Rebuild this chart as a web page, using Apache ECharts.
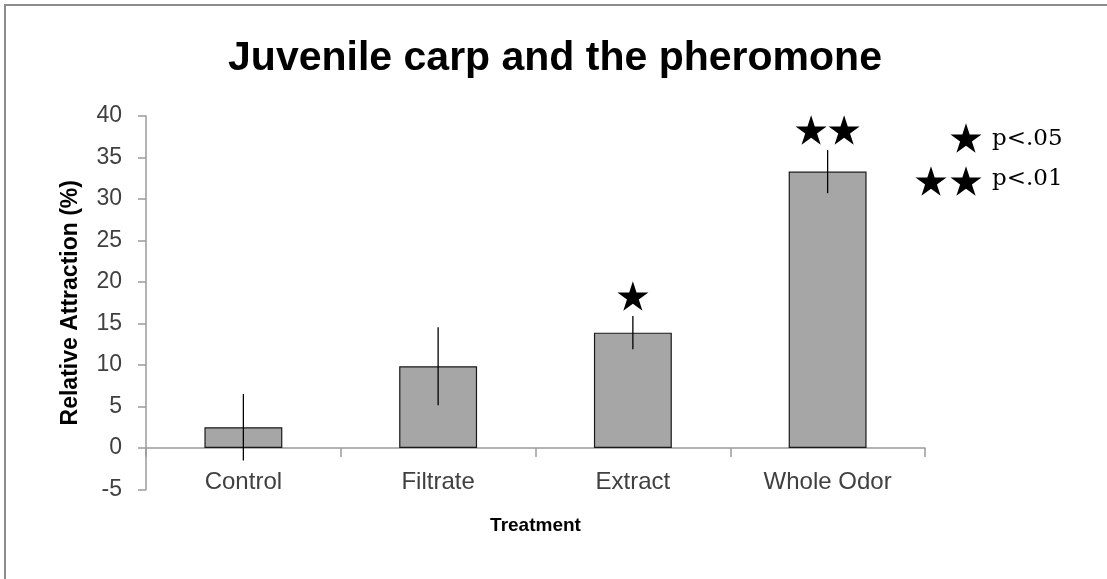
<!DOCTYPE html>
<html>
<head>
<meta charset="utf-8">
<script src="https://cdn.jsdelivr.net/npm/echarts@6/dist/echarts.min.js"></script>
<style>
html,body{margin:0;padding:0;background:#fff;}
#chart{width:1107px;height:579px;}
</style>
</head>
<body>
<div id="chart"></div>
<script>
var categories = ['Control', 'Filtrate', 'Extract', 'Whole Odor'];
var means = [2.5, 9.85, 13.9, 33.3];
var errors = [4.0, 4.7, 2.0, 2.6];
var significance = [0, 0, 1, 2];
var legendRows = [{stars: 1, text: 'p<.05'}, {stars: 2, text: 'p<.01'}];

var STAR = 'M0,-100 L22.45,-30.9 L95.11,-30.9 L36.33,11.8 L58.78,80.9 L0,38.2 L-58.78,80.9 L-36.33,11.8 L-95.11,-30.9 L-22.45,-30.9 Z';

function starPoints(cx, cy, w, h) {
  var pts = [[0,-100],[22.45,-30.9],[95.11,-30.9],[36.33,11.8],[58.78,80.9],[0,38.2],[-58.78,80.9],[-36.33,11.8],[-95.11,-30.9],[-22.45,-30.9]];
  var sx = w / 190.22, sy = h / 180.9;
  return pts.map(function (p) { return [cx + p[0] * sx, cy + (p[1] + 9.55) * sy]; });
}

var starData = [];
significance.forEach(function (n, i) {
  for (var k = 0; k < n; k++) {
    starData.push({
      value: [i, means[i] + errors[i]],
      symbolOffset: [(k - (n - 1) / 2) * 33, -20]
    });
  }
});

var errData = means.map(function (m, i) { return [i, m - errors[i], m + errors[i]]; });

var chart = echarts.init(document.getElementById('chart'));

var graphics = [
  {type: 'rect', shape: {x: 5, y: 5, width: 1300, height: 800}, style: {fill: 'none', stroke: '#8c8c8c', lineWidth: 2}, silent: true},
  {type: 'text', x: 555, y: 59, style: {text: 'Juvenile carp and the pheromone', font: 'bold 41px "Liberation Sans", Arial, sans-serif', fill: '#000', textAlign: 'center', textVerticalAlign: 'middle'}}
];
var legendY = [138, 181];
var textY = [139.5, 179];
legendRows.forEach(function (r, j) {
  for (var k = 0; k < r.stars; k++) {
    var cx = 966 - (r.stars - 1 - k) * 35;
    graphics.push({type: 'polygon', shape: {points: starPoints(cx, legendY[j], 31, 29.5)}, style: {fill: '#000'}});
  }
  graphics.push({type: 'text', x: 992, y: textY[j], style: {text: r.text, font: '23px "DejaVu Serif", serif', fill: '#000', textAlign: 'left', textVerticalAlign: 'middle'}});
});

chart.setOption({
  animation: false,
  backgroundColor: '#fff',
  grid: {left: 146, right: 182, top: 116, bottom: 89.5, containLabel: false},
  graphic: graphics,
  xAxis: {
    type: 'category',
    data: categories,
    name: 'Treatment',
    nameLocation: 'middle',
    nameGap: 27,
    nameTextStyle: {fontFamily: '"Liberation Sans", Arial, sans-serif', fontWeight: 'bold', fontSize: 19, color: '#000'},
    axisLine: {onZero: true, lineStyle: {color: '#9a9a9a', width: 1.5}},
    axisTick: {show: true, length: 9, alignWithLabel: false, lineStyle: {color: '#9a9a9a', width: 1.5}},
    axisLabel: {margin: -19.5, fontFamily: '"Liberation Sans", Arial, sans-serif', fontSize: 24, color: '#404040'},
    splitLine: {show: false}
  },
  yAxis: {
    type: 'value',
    min: -5, max: 40, interval: 5,
    name: 'Relative Attraction (%)',
    nameLocation: 'middle',
    nameGap: 64,
    nameTextStyle: {fontFamily: '"Liberation Sans", Arial, sans-serif', fontWeight: 'bold', fontSize: 23, color: '#000'},
    axisLine: {show: true, lineStyle: {color: '#9a9a9a', width: 1.5}},
    axisTick: {show: true, length: 8, lineStyle: {color: '#9a9a9a', width: 1.5}},
    axisLabel: {margin: 24, fontFamily: '"Liberation Sans", Arial, sans-serif', fontSize: 23, color: '#404040'},
    splitLine: {show: false}
  },
  series: [
    {
      type: 'bar',
      data: means,
      barWidth: '40%',
      itemStyle: {color: '#a6a6a6', borderColor: '#1a1a1a', borderWidth: 1.2},
      z: 2
    },
    {
      type: 'custom',
      data: errData,
      z: 3,
      renderItem: function (params, api) {
        var p1 = api.coord([api.value(0), api.value(1)]);
        var p2 = api.coord([api.value(0), api.value(2)]);
        return {type: 'line', shape: {x1: p1[0], y1: p1[1], x2: p2[0], y2: p2[1]}, style: {stroke: '#000', lineWidth: 1.3}};
      }
    },
    {
      type: 'scatter',
      data: starData,
      symbol: 'path://' + STAR,
      symbolSize: [31, 29.5],
      itemStyle: {color: '#000', opacity: 1},
      z: 4
    }
  ]
});
</script>
</body>
</html>
